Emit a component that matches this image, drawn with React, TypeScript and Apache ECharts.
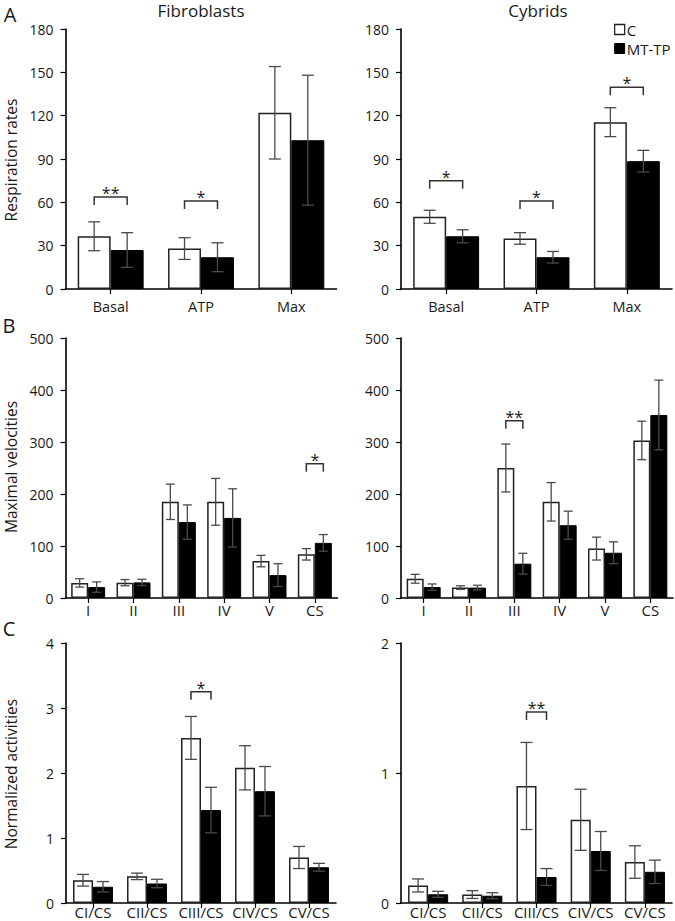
import React, { useEffect, useRef } from 'react';
import * as echarts from 'echarts';

// ---------- Data ----------
const respCategories = ['Basal', 'ATP', 'Max'];
const fibroRespC = [36.5, 28, 122];
const fibroRespCErr = [10, 7.5, 32];
const fibroRespMT = [27, 22, 103];
const fibroRespMTErr = [12, 10, 45];
const cybRespC = [50, 35, 115.5];
const cybRespCErr = [4.5, 4, 10];
const cybRespMT = [36.5, 22, 88.5];
const cybRespMTErr = [4.5, 4, 7.5];

const velCategories = ['I', 'II', 'III', 'IV', 'V', 'CS'];
const fibroVelC = [29, 29.5, 185, 185, 71, 84];
const fibroVelCErr = [8, 6, 34, 45, 11, 11];
const fibroVelMT = [21, 30, 146, 154, 44, 106];
const fibroVelMTErr = [10, 6, 33, 56, 22, 16];
const cybVelC = [37, 20, 250, 185, 95, 303];
const cybVelCErr = [8.5, 3.5, 46, 37, 22, 37];
const cybVelMT = [21, 20, 66, 140, 87, 352];
const cybVelMTErr = [6, 4.5, 20, 27, 21, 67];

const normCategories = ['CI/CS', 'CII/CS', 'CIII/CS', 'CIV/CS', 'CV/CS'];
const fibroNormC = [0.35, 0.41, 2.54, 2.08, 0.7];
const fibroNormCErr = [0.09, 0.05, 0.33, 0.34, 0.17];
const fibroNormMT = [0.25, 0.3, 1.43, 1.72, 0.55];
const fibroNormMTErr = [0.08, 0.065, 0.35, 0.38, 0.06];
const cybNormC = [0.135, 0.065, 0.9, 0.64, 0.315];
const cybNormCErr = [0.05, 0.03, 0.335, 0.235, 0.125];
const cybNormMT = [0.067, 0.056, 0.2, 0.4, 0.24];
const cybNormMTErr = [0.023, 0.023, 0.065, 0.15, 0.09];

// significance brackets: [category index, bracket value, label]
const fibroRespSig: [number, number, string][] = [[0, 63.7, '**'], [1, 61, '*']];
const cybRespSig: [number, number, string][] = [[0, 75, '*'], [1, 61, '*'], [2, 139.6, '*']];
const fibroVelSig: [number, number, string][] = [[5, 258, '*']];
const cybVelSig: [number, number, string][] = [[2, 341, '**']];
const fibroNormSig: [number, number, string][] = [[2, 3.25, '*']];
const cybNormSig: [number, number, string][] = [[2, 1.47, '**']];

const seriesNames = ['C', 'MT-TP'];
const titles = ['Fibroblasts', 'Cybrids'];
const yNames = ['Respiration rates', 'Maximal velocities', 'Normalized activities'];
const panelLetters = ['A', 'B', 'C'];

const FONT = 'Open Sans';
const INK = '#1a1a1a';

type Panel = {
  cats: string[]; c: number[]; cErr: number[]; mt: number[]; mtErr: number[];
  sig: [number, number, string][]; max: number; interval: number; gap: number; cap: number;
  left: number; top: number; width: number; height: number; catFont: number; catMargin: number;
};

const panels: Panel[] = [
  { cats: respCategories, c: fibroRespC, cErr: fibroRespCErr, mt: fibroRespMT, mtErr: fibroRespMTErr, sig: fibroRespSig, max: 180, interval: 30, gap: 0.27, cap: 12, left: 65.5, top: 29, width: 271, height: 260, catFont: 14.5, catMargin: 10 },
  { cats: respCategories, c: cybRespC, cErr: cybRespCErr, mt: cybRespMT, mtErr: cybRespMTErr, sig: cybRespSig, max: 180, interval: 30, gap: 0.27, cap: 12, left: 401, top: 29, width: 271, height: 260, catFont: 14.5, catMargin: 10 },
  { cats: velCategories, c: fibroVelC, cErr: fibroVelCErr, mt: fibroVelMT, mtErr: fibroVelMTErr, sig: fibroVelSig, max: 500, interval: 100, gap: 0.25, cap: 9, left: 65.5, top: 338, width: 272, height: 260, catFont: 15, catMargin: 4 },
  { cats: velCategories, c: cybVelC, cErr: cybVelCErr, mt: cybVelMT, mtErr: cybVelMTErr, sig: cybVelSig, max: 500, interval: 100, gap: 0.25, cap: 9, left: 401, top: 338, width: 272, height: 260, catFont: 15, catMargin: 4 },
  { cats: normCategories, c: fibroNormC, cErr: fibroNormCErr, mt: fibroNormMT, mtErr: fibroNormMTErr, sig: fibroNormSig, max: 4, interval: 1, gap: 0.26, cap: 12, left: 66, top: 643, width: 270, height: 260, catFont: 15, catMargin: 1 },
  { cats: normCategories, c: cybNormC, cErr: cybNormCErr, mt: cybNormMT, mtErr: cybNormMTErr, sig: cybNormSig, max: 2, interval: 1, gap: 0.26, cap: 12, left: 401, top: 643, width: 271, height: 260, catFont: 15, catMargin: 1 },
];

function buildOption() {
  const grid: any[] = [];
  const xAxis: any[] = [];
  const yAxis: any[] = [];
  const series: any[] = [];

  panels.forEach((p, i) => {
    grid.push({ left: p.left, top: p.top, width: p.width, height: p.height, containLabel: false });
    xAxis.push({
      type: 'category', gridIndex: i, data: p.cats,
      axisLine: { lineStyle: { color: '#000', width: 1.6 } },
      axisTick: { show: true, alignWithLabel: true, interval: 0, length: 5, lineStyle: { color: '#000', width: 1.2 } },
      axisLabel: { interval: 0, color: INK, fontSize: p.catFont, lineHeight: 15, fontFamily: FONT, margin: p.catMargin },
      splitLine: { show: false },
    });
    yAxis.push({
      type: 'value', gridIndex: i, min: 0, max: p.max, interval: p.interval,
      axisLine: { show: true, lineStyle: { color: '#000', width: 1.6 } },
      axisTick: { show: true, length: 5, lineStyle: { color: '#000', width: 1.2 } },
      axisLabel: { color: INK, fontSize: 14, fontFamily: FONT, margin: 12 },
      splitLine: { show: false },
    });

    series.push({
      type: 'bar', name: seriesNames[0], xAxisIndex: i, yAxisIndex: i, data: p.c,
      barGap: '0%', barCategoryGap: `${p.gap * 100}%`,
      itemStyle: { color: '#fff', borderColor: '#222', borderWidth: 1.5 },
    });
    series.push({
      type: 'bar', name: seriesNames[1], xAxisIndex: i, yAxisIndex: i, data: p.mt,
      barGap: '0%', barCategoryGap: `${p.gap * 100}%`,
      itemStyle: { color: '#000', borderColor: '#000', borderWidth: 1 },
    });

    const errData: number[][] = [];
    p.c.forEach((v, k) => errData.push([k, v, p.cErr[k], 0]));
    p.mt.forEach((v, k) => errData.push([k, v, p.mtErr[k], 1]));
    const gap = p.gap;
    const cap = p.cap;
    series.push({
      type: 'custom', xAxisIndex: i, yAxisIndex: i, z: 5, silent: true,
      encode: { x: 0, y: 1 },
      data: errData,
      renderItem: (params: any, api: any) => {
        const cat = api.value(0), v = api.value(1), e = api.value(2), side = api.value(3);
        const bw = api.size([1, 0])[0];
        const gw = bw * (1 - gap);
        const cx = api.coord([cat, v])[0] + (side === 0 ? -gw / 4 : gw / 4);
        const yT = api.coord([cat, v + e])[1];
        const yB = api.coord([cat, Math.max(0, v - e)])[1];
        const style = { stroke: '#4a4a4a', lineWidth: 1.3 };
        return {
          type: 'group', children: [
            { type: 'line', shape: { x1: cx, y1: yT, x2: cx, y2: yB }, style },
            { type: 'line', shape: { x1: cx - cap / 2, y1: yT, x2: cx + cap / 2, y2: yT }, style },
            { type: 'line', shape: { x1: cx - cap / 2, y1: yB, x2: cx + cap / 2, y2: yB }, style },
          ],
        };
      },
    });

    const sig = p.sig;
    series.push({
      type: 'custom', xAxisIndex: i, yAxisIndex: i, z: 6, silent: true,
      encode: { x: 0, y: 1 },
      data: sig.map((s) => [s[0], s[1]]),
      renderItem: (params: any, api: any) => {
        const cat = api.value(0), y = api.value(1);
        const label = sig[params.dataIndex][2];
        const bw = api.size([1, 0])[0];
        const gw = bw * (1 - gap);
        const pt = api.coord([cat, y]);
        const x0 = pt[0] - gw / 4, x1 = pt[0] + gw / 4;
        const yy = pt[1];
        const drop = 8;
        return {
          type: 'group', children: [
            { type: 'polyline', shape: { points: [[x0, yy + drop], [x0, yy], [x1, yy], [x1, yy + drop]] }, style: { stroke: '#333', lineWidth: 1.5, fill: null } },
            { type: 'text', x: pt[0], y: yy - 4, style: { text: label, fontSize: 16, fontFamily: FONT, fill: INK, align: 'center', verticalAlign: 'middle' } },
          ],
        };
      },
    });
  });

  const txt = (text: string, x: number, y: number, size: number, rot = 0) => ({
    type: 'text', x, y, rotation: rot,
    style: { text, fontSize: size, fontFamily: FONT, fill: INK, align: 'center', verticalAlign: 'middle' },
  });

  const graphic: any[] = [
    txt(titles[0], 201, 10, 17),
    txt(titles[1], 538, 10, 17),
    txt(panelLetters[0], 10, 14, 20),
    txt(panelLetters[1], 9, 325, 20),
    txt(panelLetters[2], 9, 628, 20),
    txt(yNames[0], 11, 160, 15.5, Math.PI / 2),
    txt(yNames[1], 11, 467, 15.5, Math.PI / 2),
    txt(yNames[2], 11, 774, 15.5, Math.PI / 2),
  ];

  return {
    animation: false,
    backgroundColor: '#fff',
    textStyle: { fontFamily: FONT },
    legend: {
      orient: 'vertical', left: 614, top: 22, padding: 0, itemGap: 4,
      itemWidth: 10, itemHeight: 10, selectedMode: false, icon: 'rect',
      textStyle: { fontSize: 15, fontFamily: FONT, color: INK, padding: [0, 0, 0, -3] },
      data: [
        { name: seriesNames[0], itemStyle: { color: '#fff', borderColor: '#222', borderWidth: 1.3 } },
        { name: seriesNames[1], itemStyle: { color: '#000', borderColor: '#000', borderWidth: 1 } },
      ],
    },
    grid, xAxis, yAxis, series, graphic,
  };
}

export default function App() {
  const ref = useRef<HTMLDivElement>(null);
  useEffect(() => {
    if (!ref.current) return;
    const chart = echarts.init(ref.current, null, { renderer: 'svg' });
    chart.setOption(buildOption() as any);
    return () => chart.dispose();
  }, []);
  return (
    <div
      ref={ref}
      style={{ position: 'absolute', left: 0, top: 0, width: 675, height: 921, background: '#fff' }}
    />
  );
}
